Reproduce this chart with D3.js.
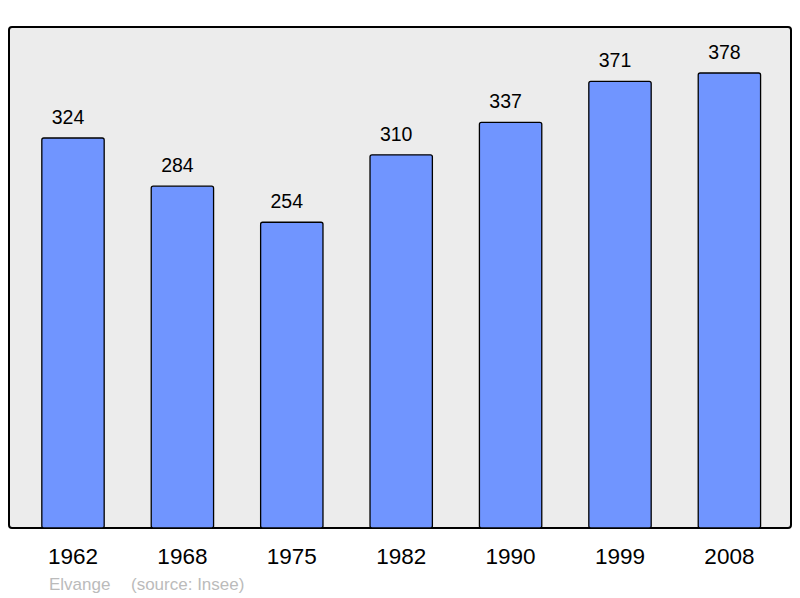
<!DOCTYPE html>
<html><head><meta charset="utf-8">
<script src="https://cdn.jsdelivr.net/npm/d3@7"></script>
<style>body{margin:0;background:#fff}svg{display:block}</style>
</head><body>
<script>
const years = ["1962","1968","1975","1982","1990","1999","2008"];
const population = [324,284,254,310,337,371,378];
const footerPlace = "Elvange";
const footerSource = "(source: Insee)";

const W = 800, H = 598;
const frame = {x0: 9, y0: 27, x1: 791, y1: 528};
const svg = d3.select("body").append("svg").attr("width", W).attr("height", H);

svg.append("rect").attr("x", frame.x0).attr("y", frame.y0)
  .attr("width", frame.x1 - frame.x0).attr("height", frame.y1 - frame.y0)
  .attr("rx", 3).attr("fill", "#ececec").attr("stroke", "#000").attr("stroke-width", 2);

const x = d3.scaleBand().domain(years).range([18.3, 784.1]).paddingInner(0.43).paddingOuter(0.215);
const y = d3.scaleLinear().domain([0, 416.2]).range([frame.y1, frame.y0]);

const data = years.map((yr, i) => ({yr, v: population[i]}));

svg.append("g").selectAll("rect").data(data).join("rect")
  .attr("x", d => x(d.yr)).attr("y", d => y(d.v))
  .attr("width", x.bandwidth()).attr("height", d => y(0) - y(d.v))
  .attr("rx", 2)
  .attr("fill", "#7095ff").attr("stroke", "#000").attr("stroke-width", 1.3);

svg.append("g").selectAll("text").data(data).join("text")
  .attr("x", d => x(d.yr) + x.bandwidth() / 2 - 5).attr("y", d => y(d.v) - 14)
  .attr("text-anchor", "middle").attr("font-family", "Liberation Sans, Arial, sans-serif")
  .attr("font-size", 19.5).attr("fill", "#000").text(d => d.v);

const xAxis = d3.axisBottom(x).tickSize(0).tickPadding(0);
const ax = svg.append("g").attr("transform", `translate(0,${frame.y1})`).call(xAxis);
ax.select(".domain").remove();
ax.selectAll("text").attr("font-family", "Liberation Sans, Arial, sans-serif")
  .attr("font-size", 22.5).attr("fill", "#000").attr("dy", null).attr("y", 36);

svg.append("text").attr("x", 49).attr("y", 590)
  .attr("font-family", "Liberation Sans, Arial, sans-serif").attr("font-size", 17)
  .attr("fill", "#bbbbbb").text(footerPlace);
svg.append("text").attr("x", 131).attr("y", 590)
  .attr("font-family", "Liberation Sans, Arial, sans-serif").attr("font-size", 17)
  .attr("fill", "#bbbbbb").text(footerSource);
</script>
</body></html>
